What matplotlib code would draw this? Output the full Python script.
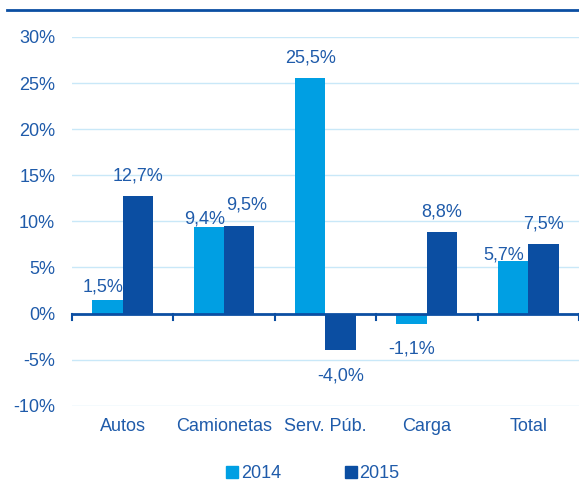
import numpy as np
import matplotlib.pyplot as plt
from matplotlib.lines import Line2D

categories = ["Autos", "Camionetas", "Serv. Púb.", "Carga", "Total"]
years = ["2014", "2015"]
v2014 = [1.5, 9.4, 25.5, -1.1, 5.7]
v2015 = [12.7, 9.5, -4.0, 8.8, 7.5]
yticks = [-10, -5, 0, 5, 10, 15, 20, 25, 30]

c_light = "#009FE3"
c_dark = "#0B4EA2"
c_text = "#1F5BAA"
c_grid = "#C9E8F8"

plt.rcParams['font.family'] = ['Liberation Sans', 'DejaVu Sans']

fig = plt.figure(figsize=(5.79, 4.86), dpi=100)
ax = fig.add_axes([0.124, 0.165, 0.876, 0.759])

x = np.arange(len(categories))
w = 0.3
b1 = ax.bar(x - w/2, v2014, w, color=c_light, zorder=2, label=years[0])
b2 = ax.bar(x + w/2, v2015, w, color=c_dark, zorder=2, label=years[1])

def fmt(v):
    return f"{v:.1f}%".replace(".", ",")

# label nudges (pixels) where labels would collide, like Excel does
nudge = {(0, 0): (-4, 8), (0, 1): (-4, 3), (1, 1): (7, 16), (0, 4): (-9, 2)}

for s, (bars, vals) in enumerate(((b1, v2014), (b2, v2015))):
    for i, (r, v) in enumerate(zip(bars, vals)):
        cx = r.get_x() + r.get_width()/2
        dx, dy = nudge.get((s, i), (0, 16))
        if v >= 0:
            ax.annotate(fmt(v), (cx, v), xytext=(dx, dy), textcoords="offset pixels",
                        ha="center", va="baseline", color=c_text, fontsize=13)
        else:
            ax.annotate(fmt(v), (cx, v), xytext=(dx, -17), textcoords="offset pixels",
                        ha="center", va="top", color=c_text, fontsize=13)

ax.set_xlim(-0.5, len(categories) - 0.5)
ax.set_ylim(-10, 30)
ax.set_yticks(yticks)
ax.set_yticklabels([f"{t}%" for t in yticks], color=c_text, fontsize=13)
for t in yticks:
    if t != 0:
        ax.axhline(t, color=c_grid, lw=1, zorder=0)
ax.axhline(0, color=c_dark, lw=2, zorder=3)
for b in np.arange(-0.5, len(categories), 1.0):
    ax.plot([b, b], [0, -0.7], color=c_dark, lw=1.5, zorder=3, clip_on=False)

ax.set_xticks(x)
ax.set_xticklabels(categories, color=c_text, fontsize=13)
ax.tick_params(axis="both", length=0)
ax.tick_params(axis="y", pad=12)
ax.tick_params(axis="x", pad=9)
for s in ax.spines.values():
    s.set_visible(False)

handles = [Line2D([], [], marker="s", ls="", color=c_light, markersize=8.5),
           Line2D([], [], marker="s", ls="", color=c_dark, markersize=8.5)]
leg = fig.legend(handles, years, loc="center", bbox_to_anchor=(0.54, 0.025),
                 ncol=2, frameon=False, fontsize=13, handlelength=0.7,
                 handletextpad=0.15, columnspacing=3.5, labelcolor=c_text)

# rule across the top
fig.add_artist(Line2D([0.012, 1.0], [0.979, 0.979], color=c_dark, lw=2))

fig.savefig("out.png", dpi=100)
